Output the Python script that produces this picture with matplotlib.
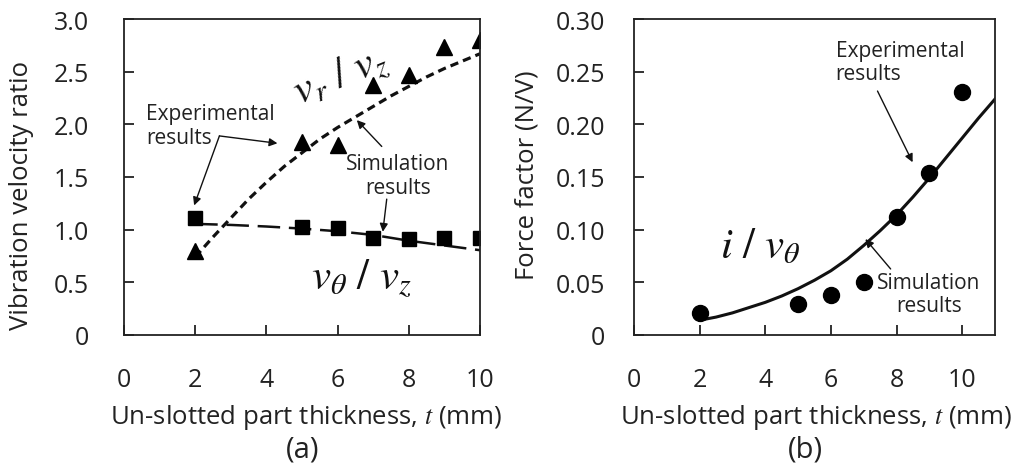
import matplotlib
matplotlib.use("Agg")
import matplotlib.pyplot as plt

plt.rcParams['font.family'] = ['Open Sans', 'DejaVu Sans']
plt.rcParams['mathtext.fontset'] = 'stix'

# ---- Data: panel (a) ----
t_exp = [2, 5, 6, 7, 8, 9, 10]
vr_vz_exp = [0.80, 1.83, 1.80, 2.37, 2.47, 2.73, 2.80]
vth_vz_exp = [1.11, 1.03, 1.02, 0.92, 0.91, 0.92, 0.92]

t_sim_vr = [2, 2.5, 3, 3.5, 4, 4.5, 5, 5.5, 6, 6.5, 7, 7.5, 8, 8.5, 9, 9.5, 10]
vr_vz_sim = [0.74, 0.93, 1.11, 1.29, 1.45, 1.60, 1.73, 1.86, 1.97, 2.07,
             2.17, 2.27, 2.36, 2.45, 2.53, 2.60, 2.67]
t_sim_vth = [2, 3, 4, 5, 6, 7, 8, 9, 10]
vth_vz_sim = [1.055, 1.045, 1.03, 1.01, 0.985, 0.95, 0.895, 0.85, 0.805]

# ---- Data: panel (b) ----
force_exp = [0.021, 0.029, 0.038, 0.050, 0.112, 0.154, 0.231]
t_sim_b = [2, 2.5, 3, 3.5, 4, 4.5, 5, 5.5, 6, 6.5, 7, 7.5, 8, 8.5, 9, 9.5,
           10, 10.5, 11]
force_sim = [0.014, 0.017, 0.021, 0.026, 0.031, 0.037, 0.044, 0.052, 0.061,
             0.072, 0.085, 0.099, 0.114, 0.131, 0.149, 0.168, 0.187, 0.206, 0.224]

xticklabels = ['0', '2', '4', '6', '8', '10']
yticks_a = [0, 0.5, 1.0, 1.5, 2.0, 2.5, 3.0]
yticklabels_a = ['0', '0.5', '1.0', '1.5', '2.0', '2.5', '3.0']
yticks_b = [0, 0.05, 0.10, 0.15, 0.20, 0.25, 0.30]
yticklabels_b = ['0', '0.05', '0.10', '0.15', '0.20', '0.25', '0.30']

W, H = 1020, 477
fig = plt.figure(figsize=(W / 100, H / 100), dpi=100)

def px(x, y):
    return x / W, 1 - y / H

ax1 = fig.add_axes([124 / W, 1 - 336 / H, (480 - 124) / W, (336 - 20) / H])
ax2 = fig.add_axes([634 / W, 1 - 336 / H, (995 - 634) / W, (336 - 20) / H])

for ax in (ax1, ax2):
    for s in ax.spines.values():
        s.set_linewidth(1.3)
        s.set_color('#222222')
    ax.tick_params(direction='in', length=7, width=1.3, labelsize=18,
                   colors='#222222', top=False, right=False)

lab_fs = 18.5
ann_fs = 15
arrow_kw = dict(arrowstyle='-|>', color='#111111', lw=1.0, mutation_scale=12,
                shrinkA=0, shrinkB=0)

# ---- Panel (a) ----
ax1.plot(t_sim_vr, vr_vz_sim, color='#111111', lw=2.3, linestyle=(0, (2.6, 1.6)))
ax1.plot(t_sim_vth, vth_vz_sim, color='#111111', lw=1.8, linestyle=(0, (9, 3.5)))
ax1.plot(t_exp, vr_vz_exp, linestyle='none', marker='^', ms=11, color='black')
ax1.plot(t_exp, vth_vz_exp, linestyle='none', marker='s', ms=10, color='black')
ax1.set_xlim(0, 10)
ax1.set_ylim(0, 3.0)
ax1.set_xticks([0, 2, 4, 6, 8, 10])
ax1.set_xticklabels(xticklabels)
ax1.set_yticks(yticks_a)
ax1.set_yticklabels(yticklabels_a)
ax1.tick_params(axis='x', pad=23)
ax1.tick_params(axis='y', pad=25)

ax1.text(0.62, 1.99, 'Experimental\nresults', ha='left', va='center',
         fontsize=ann_fs, linespacing=1.15, color='#222222')
ax1.annotate('', xy=(4.31, 1.82), xytext=(2.68, 1.89), arrowprops=arrow_kw)
ax1.annotate('', xy=(1.97, 1.23), xytext=(2.68, 1.89), arrowprops=arrow_kw)
ax1.text(7.69, 1.515, 'Simulation\nresults', ha='center', va='center',
         fontsize=ann_fs, linespacing=1.15, color='#222222')
ax1.annotate('', xy=(6.54, 2.04), xytext=(7.24, 1.79), arrowprops=arrow_kw)
ax1.annotate('', xy=(7.27, 0.98), xytext=(7.38, 1.29), arrowprops=arrow_kw)
ax1.text(6.06, 2.46, r'$v_r\ /\ v_z$', ha='center', va='center',
         fontsize=31, rotation=22, color='#111111')
ax1.text(6.68, 0.55, r'$v_\theta\ /\ v_z$', ha='center', va='center',
         fontsize=31, color='#111111')

# ---- Panel (b) ----
ax2.plot(t_sim_b, force_sim, color='#111111', lw=2.2)
ax2.plot(t_exp, force_exp, linestyle='none', marker='o', ms=11.5, color='black')
ax2.set_xlim(0, 11)
ax2.set_ylim(0, 0.30)
ax2.set_xticks([0, 2, 4, 6, 8, 10])
ax2.set_xticklabels(xticklabels)
ax2.set_yticks(yticks_b)
ax2.set_yticklabels(yticklabels_b)
ax2.tick_params(axis='x', pad=23)
ax2.tick_params(axis='y', pad=21)

ax2.text(6.14, 0.259, 'Experimental\nresults', ha='left', va='center',
         fontsize=ann_fs, linespacing=1.15, color='#222222')
ax2.annotate('', xy=(8.49, 0.164), xytext=(7.42, 0.2316), arrowprops=arrow_kw)
ax2.text(8.98, 0.039, 'Simulation\nresults', ha='center', va='center',
         fontsize=ann_fs, linespacing=1.15, color='#222222')
ax2.annotate('', xy=(7.05, 0.0911), xytext=(7.82, 0.0627), arrowprops=arrow_kw)
ax2.text(3.85, 0.0845, r'$i\ /\ v_\theta$', ha='center', va='center',
         fontsize=31, color='#111111')

# ---- Axis labels & panel tags ----
fig.text(*px(306, 418), 'Un-slotted part thickness, $t$ (mm)', ha='center', va='center',
         fontsize=lab_fs, color='#222222')
fig.text(*px(816, 418), 'Un-slotted part thickness, $t$ (mm)', ha='center', va='center',
         fontsize=lab_fs, color='#222222')
fig.text(*px(22, 195), 'Vibration velocity ratio', ha='center', va='center',
         rotation=90, fontsize=lab_fs, color='#222222')
fig.text(*px(527, 175), 'Force factor (N/V)', ha='center', va='center',
         rotation=90, fontsize=lab_fs, color='#222222')
fig.text(*px(303, 450), '(a)', ha='center', va='center', fontsize=21, color='#222222')
fig.text(*px(805, 450), '(b)', ha='center', va='center', fontsize=21, color='#222222')

fig.savefig('out.png', dpi=100)
